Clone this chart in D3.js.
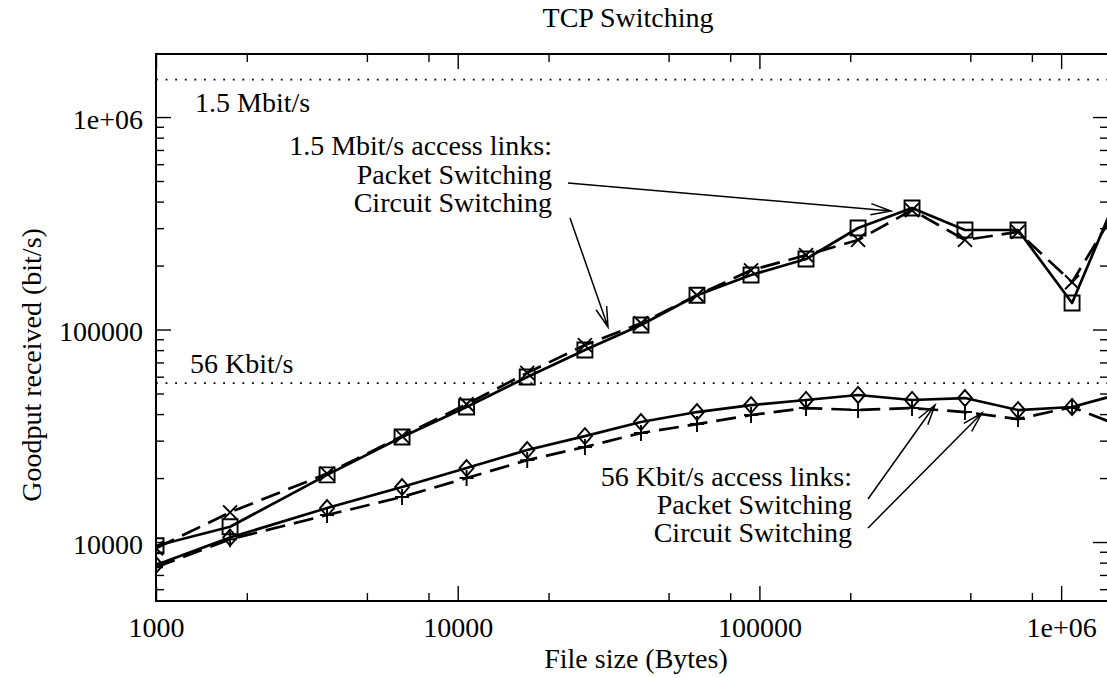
<!DOCTYPE html>
<html>
<head>
<meta charset="utf-8">
<script src="https://cdn.jsdelivr.net/npm/d3@7"></script>
<style>
  html, body { margin: 0; padding: 0; background: #fff; }
  svg { display: block; }
  text { font-family: "Liberation Serif", "Times New Roman", serif; fill: #000; }
</style>
</head>
<body>
<svg id="chart" width="1107" height="678"></svg>
<script>
// ---- data -------------------------------------------------------------
const fileSizes = [1000, 1760, 3690, 6540, 10700, 17000, 26400, 40500, 62100, 93800,
                   142700, 212300, 320500, 480000, 719700, 1087000, 1630000];

// 1.5 Mbit/s access links
const packet15  = [9600, 11800, 20700, 31200, 43200, 59800, 80100, 105000, 145000, 180500,
                   214600, 300500, 373000, 294000, 294000, 133300, 520000];
const circuit15 = [9350, 13800, 21000, 31500, 44500, 62500, 84500, 107000, 145000, 190000,
                   224000, 264000, 365000, 264000, 288000, 167000, 430000];

// 56 Kbit/s access links
const packet56  = [7800, 10500, 14450, 18150, 22300, 27100, 31500, 36700, 40900, 44100,
                   46600, 49200, 46600, 47600, 41800, 43200, 50500];
const circuit56 = [7600, 10300, 13400, 16300, 20000, 24300, 28000, 32600, 35900, 39600,
                   42700, 41800, 42700, 40900, 37900, 43200, 34400];

const linkRates      = [1.5e6, 56000];
const linkRateLabels = ["1.5 Mbit/s", "56 Kbit/s"];

const xTickValues = [1e3, 1e4, 1e5, 1e6];
const xTickLabels = ["1000", "10000", "100000", "1e+06"];
const yTickValues = [1e4, 1e5, 1e6];
const yTickLabels = ["10000", "100000", "1e+06"];
const xMinorMultiples = [2, 5, 8];
const yMinorMultiples = [2, 3, 4, 5, 6, 7, 8, 9];

const titleText  = "TCP Switching";
const xAxisTitle = "File size (Bytes)";
const yAxisTitle = "Goodput received (bit/s)";
const fastBlock  = ["1.5 Mbit/s access links:", "Packet Switching", "Circuit Switching"];
const slowBlock  = ["56 Kbit/s access links:", "Packet Switching", "Circuit Switching"];

// ---- layout -----------------------------------------------------------
const plot = { left: 156, right: 1108, top: 54, bottom: 601 };
const FONT = 28;

const svg = d3.select("#chart");

const x = d3.scaleLog().domain([1000, 1.43e6]).range([plot.left, plot.right]);
const y = d3.scaleLog().domain([5278, 1.98e6]).range([plot.bottom, plot.top]);

function minorTicks(scale, multiples) {
  const [a, b] = scale.domain();
  const out = [];
  for (let e = Math.floor(Math.log10(a)); e <= Math.ceil(Math.log10(b)); e++) {
    multiples.forEach(k => {
      const v = k * Math.pow(10, e);
      if (v > a && v < b) out.push(v);
    });
  }
  return out;
}

const MAJOR = 15, MINOR = 8;

function styleAxis(g) {
  g.select(".domain").remove();
  g.selectAll(".tick line").attr("stroke", "#000").attr("stroke-width", 1.4);
  g.selectAll(".tick text").attr("font-size", FONT).attr("font-family", "Liberation Serif, serif");
}

// bottom axis with labels
svg.append("g")
  .attr("transform", `translate(0,${plot.bottom})`)
  .call(d3.axisBottom(x).tickValues(xTickValues)
        .tickFormat((d, i) => xTickLabels[i]).tickSize(-MAJOR).tickPadding(16))
  .call(styleAxis);
svg.append("g")
  .attr("transform", `translate(0,${plot.bottom})`)
  .call(d3.axisBottom(x).tickValues(minorTicks(x, xMinorMultiples)).tickFormat("").tickSize(-MINOR))
  .call(styleAxis);

// top axis (mirrored ticks)
svg.append("g")
  .attr("transform", `translate(0,${plot.top})`)
  .call(d3.axisTop(x).tickValues(xTickValues).tickFormat("").tickSize(-MAJOR))
  .call(styleAxis);
svg.append("g")
  .attr("transform", `translate(0,${plot.top})`)
  .call(d3.axisTop(x).tickValues(minorTicks(x, xMinorMultiples)).tickFormat("").tickSize(-MINOR))
  .call(styleAxis);

// left axis with labels
const leftAxis = svg.append("g")
  .attr("transform", `translate(${plot.left},0)`)
  .call(d3.axisLeft(y).tickValues(yTickValues)
        .tickFormat((d, i) => yTickLabels[i]).tickSize(-MAJOR).tickPadding(13))
  .call(styleAxis);
leftAxis.selectAll(".tick text").attr("dy", "0.4em");
svg.append("g")
  .attr("transform", `translate(${plot.left},0)`)
  .call(d3.axisLeft(y).tickValues(minorTicks(y, yMinorMultiples)).tickFormat("").tickSize(-MINOR))
  .call(styleAxis);

// right axis (mirrored ticks)
svg.append("g")
  .attr("transform", `translate(${plot.right},0)`)
  .call(d3.axisRight(y).tickValues(yTickValues).tickFormat("").tickSize(-MAJOR))
  .call(styleAxis);
svg.append("g")
  .attr("transform", `translate(${plot.right},0)`)
  .call(d3.axisRight(y).tickValues(minorTicks(y, yMinorMultiples)).tickFormat("").tickSize(-MINOR))
  .call(styleAxis);

// frame
svg.append("rect")
  .attr("x", plot.left).attr("y", plot.top)
  .attr("width", plot.right - plot.left).attr("height", plot.bottom - plot.top)
  .attr("fill", "none").attr("stroke", "#000").attr("stroke-width", 2);

// clip region for the data
svg.append("clipPath").attr("id", "plotClip")
  .append("rect")
  .attr("x", plot.left).attr("y", plot.top)
  .attr("width", plot.right - plot.left).attr("height", plot.bottom - plot.top);

const data = svg.append("g").attr("clip-path", "url(#plotClip)");

// access link capacity references (dotted)
data.selectAll("line.rate")
  .data(linkRates)
  .join("line")
  .attr("class", "rate")
  .attr("x1", x.range()[0]).attr("x2", x.range()[1])
  .attr("y1", d => y(d)).attr("y2", d => y(d))
  .attr("stroke", "#000").attr("stroke-width", 1.8)
  .attr("stroke-dasharray", "1.8,7.8");

// marker shapes
const markerPaths = {
  square:  "M-7.5,-7.5H7.5V7.5H-7.5Z",
  cross:   "M-7,-7L7,7M-7,7L7,-7",
  diamond: "M0,-8L7,0L0,8L-7,0Z",
  plus:    "M-7,0H7M0,-8V8"
};

const series = [
  { values: circuit15, dash: "20,9", marker: "cross" },
  { values: packet15,  dash: null,   marker: "square" },
  { values: circuit56, dash: "20,9", marker: "plus" },
  { values: packet56,  dash: null,   marker: "diamond" }
];

const line = d3.line().x(d => x(d[0])).y(d => y(d[1]));

series.forEach(s => {
  const pts = fileSizes.map((f, i) => [f, s.values[i]]);
  data.append("path")
    .datum(pts)
    .attr("d", line)
    .attr("fill", "none")
    .attr("stroke", "#000")
    .attr("stroke-width", 2.7)
    .attr("stroke-dasharray", s.dash)
    .attr("stroke-linejoin", "round");
  data.selectAll(null)
    .data(pts)
    .join("path")
    .attr("transform", d => `translate(${x(d[0])},${y(d[1])})`)
    .attr("d", markerPaths[s.marker])
    .attr("fill", "none")
    .attr("stroke", "#000")
    .attr("stroke-width", 1.9);
});

// ---- text -------------------------------------------------------------
function label(txt, px, py, anchor) {
  return svg.append("text")
    .attr("x", px).attr("y", py)
    .attr("text-anchor", anchor || "start")
    .attr("font-size", FONT)
    .text(txt);
}

label(titleText, 628, 27, "middle");
label(xAxisTitle, 636, 668, "middle");
svg.append("text")
  .attr("transform", "translate(41,365) rotate(-90)")
  .attr("text-anchor", "middle")
  .attr("font-size", FONT)
  .text(yAxisTitle);

// capacity labels next to the dotted lines
label(linkRateLabels[0], 195, y(linkRates[0]) + 32);
label(linkRateLabels[1], 190, y(linkRates[1]) - 10);

// legend blocks
fastBlock.forEach((t, i) => label(t, 552, 155 + i * 28.5, "end"));
slowBlock.forEach((t, i) => label(t, 852, 486 + i * 28, "end"));

// annotation arrows
function arrow(x1, y1, x2, y2) {
  const a = Math.atan2(y2 - y1, x2 - x1), L = 21, h = 0.27;
  const p = `M${x1},${y1}L${x2},${y2}` +
            `M${x2 - L * Math.cos(a - h)},${y2 - L * Math.sin(a - h)}L${x2},${y2}` +
            `L${x2 - L * Math.cos(a + h)},${y2 - L * Math.sin(a + h)}`;
  svg.append("path").attr("d", p).attr("fill", "none")
    .attr("stroke", "#000").attr("stroke-width", 1.5);
}

arrow(568, 183, 891, 211);
arrow(570, 218, 608, 327);
arrow(868, 499, 935, 405);
arrow(868, 528, 982, 413);
</script>
</body>
</html>
